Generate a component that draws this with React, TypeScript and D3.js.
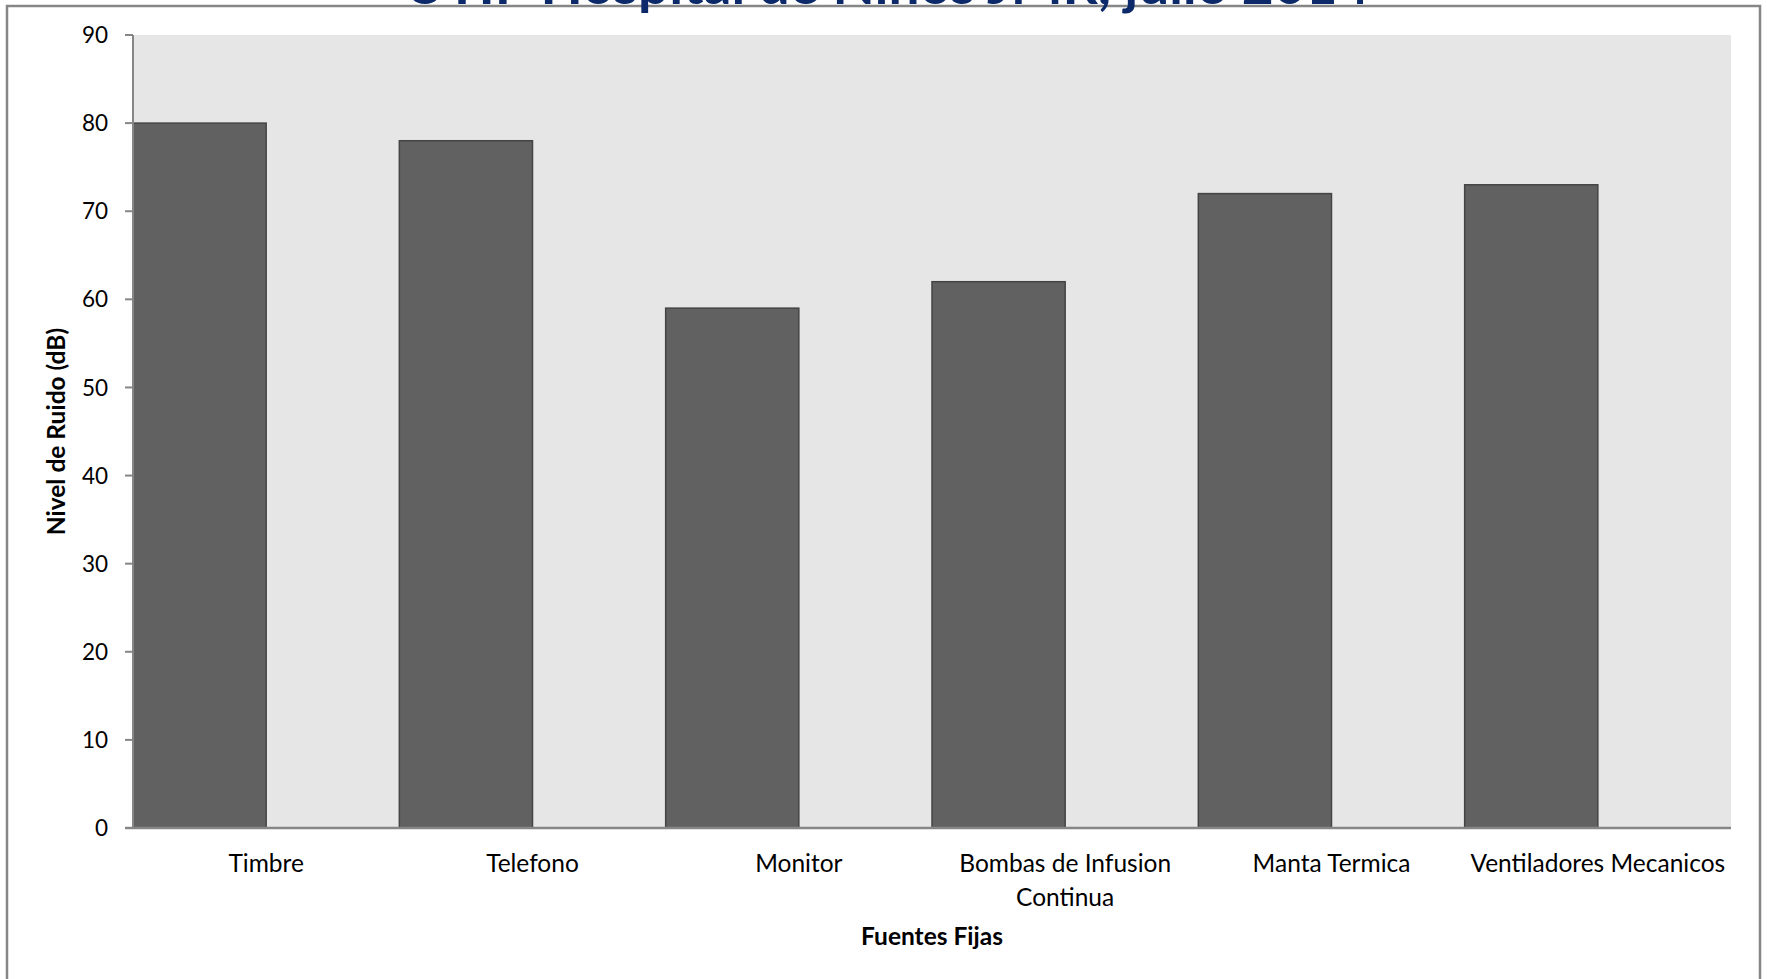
import React from "react";
import * as d3 from "d3";

const categories: string[][] = [
  ["Timbre"],
  ["Telefono"],
  ["Monitor"],
  ["Bombas de Infusion", "Continua"],
  ["Manta Termica"],
  ["Ventiladores Mecanicos"],
];
const values: number[] = [80, 78, 59, 62, 72, 73];
const yTicks: number[] = [0, 10, 20, 30, 40, 50, 60, 70, 80, 90];
const title = "UTIP  Hospital de Niños JMR, julio 2014";
const yTitle = "Nivel de Ruido (dB)";
const xTitle = "Fuentes Fijas";

const W = 1767;
const H = 979;
const plot = { left: 133, right: 1731, top: 35, bottom: 828 };
const FONT = "Lato, 'Open Sans', sans-serif";

export default function App() {
  const keys = categories.map((c) => c.join(" "));
  const x = d3.scaleBand<string>().domain(keys).range([plot.left, plot.right]).padding(0);
  const y = d3.scaleLinear().domain([0, 90]).range([plot.bottom, plot.top]);
  const bw = x.bandwidth();

  return (
    <svg
      width={W}
      height={H}
      style={{ position: "absolute", left: 0, top: 0, background: "#fff" }}
      fontFamily={FONT}
    >
      <rect x={7} y={6} width={1753} height={1100} fill="#fff" stroke="#868686" strokeWidth={2.5} />
      <text
        x={887}
        y={4}
        textAnchor="middle"
        fontSize={55}
        fontWeight="bold"
        fill="#0C2A6A"
      >
        {title}
      </text>
      <rect
        x={plot.left}
        y={plot.top}
        width={plot.right - plot.left}
        height={plot.bottom - plot.top}
        fill="#E6E6E6"
      />
      {keys.map((k, i) => (
        <rect
          key={k}
          x={x(k)!}
          y={y(values[i])}
          width={bw / 2}
          height={y(0) - y(values[i])}
          fill="#616161"
          stroke="#444444"
          strokeWidth={1.5}
        />
      ))}
      <line x1={plot.left} x2={plot.left} y1={plot.top} y2={plot.bottom} stroke="#868686" strokeWidth={2} />
      <line x1={plot.left - 8} x2={plot.right} y1={plot.bottom} y2={plot.bottom} stroke="#868686" strokeWidth={2.5} />
      {yTicks.map((t) => (
        <g key={t}>
          <line x1={plot.left - 8} x2={plot.left} y1={y(t)} y2={y(t)} stroke="#868686" strokeWidth={2} />
          <text x={108} y={y(t)} dy="0.36em" textAnchor="end" fontSize={22.5} fill="#000">
            {t}
          </text>
        </g>
      ))}
      {categories.map((lines, i) => (
        <text
          key={keys[i]}
          x={x(keys[i])! + bw / 2}
          y={872}
          textAnchor="middle"
          fontSize={24.5}
          fill="#000"
        >
          {lines.map((l, j) => (
            <tspan key={j} x={x(keys[i])! + bw / 2} dy={j === 0 ? 0 : 34}>
              {l}
            </tspan>
          ))}
        </text>
      ))}
      <text
        transform={`translate(65, ${(plot.top + plot.bottom) / 2}) rotate(-90)`}
        textAnchor="middle"
        fontSize={24.5}
        fontWeight="bold"
        fill="#000"
      >
        {yTitle}
      </text>
      <text x={932} y={945} textAnchor="middle" fontSize={24.5} fontWeight="bold" fill="#000">
        {xTitle}
      </text>
    </svg>
  );
}
